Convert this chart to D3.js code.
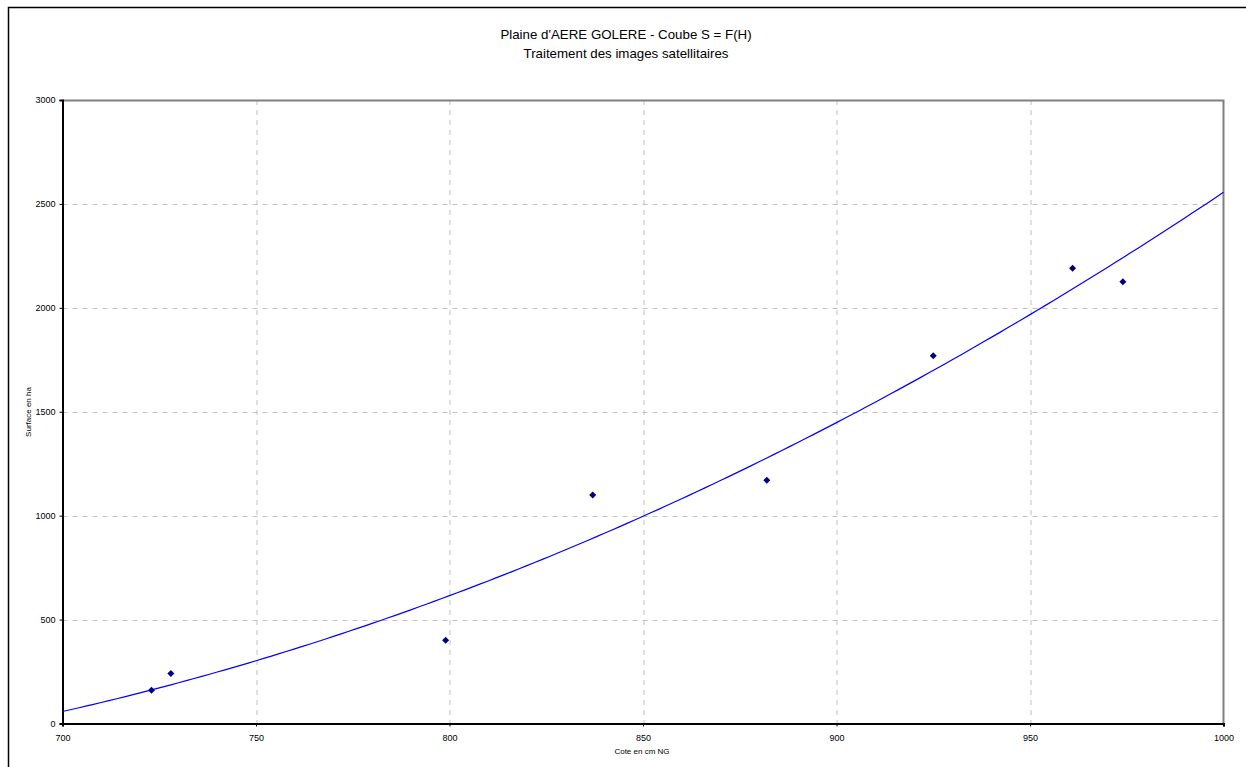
<!DOCTYPE html>
<html>
<head>
<meta charset="utf-8">
<script src="https://cdn.jsdelivr.net/npm/d3@7"></script>
<style>
  body { margin: 0; background: #fff; overflow: hidden; }
  svg { display: block; font-family: "Liberation Sans", Arial, sans-serif; }
</style>
</head>
<body>
<svg id="chart" width="1246" height="767"></svg>
<script>
// measured points (cote en cm NG, surface en ha)
var cote = [723, 728, 799, 837, 882, 925, 961, 974];
var surface = [160, 240, 400, 1100, 1170, 1770, 2190, 2125];

var xTicks = [700, 750, 800, 850, 900, 950, 1000];
var yTicks = [0, 500, 1000, 1500, 2000, 2500, 3000];

var svg = d3.select('#chart');
var width = +svg.attr('width');
var height = +svg.attr('height');

// plot area
var margin = { top: 100, left: 62.5, right: 22.5, bottom: 43.5 };
var w = width - margin.left - margin.right;
var h = height - margin.top - margin.bottom;

// outer chart border: only left and top are inside the picture
svg.append('path')
  .attr('d', 'M8.5,' + height + 'V7.5H' + width)
  .attr('fill', 'none').attr('stroke', '#000').attr('stroke-width', 1.5);

var x = d3.scaleLinear().domain([700, 1000]).range([0, w]);
var y = d3.scaleLinear().domain([0, 3000]).range([h, 0]);

var g = svg.append('g').attr('transform', 'translate(' + margin.left + ',' + margin.top + ')');

// dashed grid
g.selectAll('.vgrid').data(xTicks.slice(1, -1)).enter().append('line')
  .attr('x1', function(d) { return Math.round(x(d)) + 0.5; })
  .attr('x2', function(d) { return Math.round(x(d)) + 0.5; })
  .attr('y1', 0).attr('y2', h)
  .attr('stroke', '#c0c0c0').attr('stroke-dasharray', '5,5');
g.selectAll('.hgrid').data(yTicks.slice(1, -1)).enter().append('line')
  .attr('y1', function(d) { return Math.round(y(d)) + 0.5; })
  .attr('y2', function(d) { return Math.round(y(d)) + 0.5; })
  .attr('x1', 0).attr('x2', w)
  .attr('stroke', '#c0c0c0').attr('stroke-dasharray', '5,5');

// top and right frame in gray
g.append('path')
  .attr('d', 'M0,0.5H' + w + 'V' + h)
  .attr('fill', 'none').attr('stroke', '#808080').attr('stroke-width', 2);

// axes
var xAxis = g.append('g').attr('transform', 'translate(0,' + h + ')')
  .call(d3.axisBottom(x).tickValues(xTicks).tickSize(3).tickPadding(8).tickFormat(d3.format('d')));
var yAxis = g.append('g')
  .call(d3.axisLeft(y).tickValues(yTicks).tickSize(3).tickPadding(4).tickFormat(d3.format('d')));
[xAxis, yAxis].forEach(function(a) {
  a.select('.domain').attr('stroke', '#000').attr('stroke-width', 2);
  a.selectAll('text').attr('font-size', 9).attr('fill', '#000')
    .attr('font-family', '"Liberation Sans", Arial, sans-serif');
});

// quadratic least squares trend line from the points
var u = cote.map(function(c) { return c - 700; });
function sum(f) { return d3.sum(u, f); }
var n = u.length;
var s1 = sum(function(d) { return d; });
var s2 = sum(function(d) { return d * d; });
var s3 = sum(function(d) { return d * d * d; });
var s4 = sum(function(d) { return d * d * d * d; });
var t0 = d3.sum(surface);
var t1 = d3.sum(u, function(d, i) { return d * surface[i]; });
var t2 = d3.sum(u, function(d, i) { return d * d * surface[i]; });
// solve 3x3 system with Cramer's rule
function det(m) {
  return m[0][0] * (m[1][1] * m[2][2] - m[1][2] * m[2][1])
       - m[0][1] * (m[1][0] * m[2][2] - m[1][2] * m[2][0])
       + m[0][2] * (m[1][0] * m[2][1] - m[1][1] * m[2][0]);
}
var M = [[n, s1, s2], [s1, s2, s3], [s2, s3, s4]];
var T = [t0, t1, t2];
var D = det(M);
var coef = [0, 1, 2].map(function(k) {
  var mk = M.map(function(row, i) { return row.map(function(v, j) { return j === k ? T[i] : v; }); });
  return det(mk) / D;
});
var trend = d3.range(700, 1000.5, 2).map(function(c) {
  var v = c - 700;
  return [c, coef[0] + coef[1] * v + coef[2] * v * v];
});

g.append('path')
  .datum(trend)
  .attr('d', d3.line().x(function(d) { return x(d[0]); }).y(function(d) { return y(d[1]); }))
  .attr('fill', 'none').attr('stroke', '#0000ff').attr('stroke-width', 1.2);

// diamond markers
g.selectAll('.pt').data(cote).enter().append('path')
  .attr('d', 'M0,-3.5L3.5,0L0,3.5L-3.5,0Z')
  .attr('transform', function(d, i) { return 'translate(' + x(d) + ',' + y(surface[i]) + ')'; })
  .attr('fill', '#000080');

// titles
svg.append('text').attr('x', 626).attr('y', 39).attr('text-anchor', 'middle')
  .attr('font-size', 13.3).text("Plaine d'AERE GOLERE - Coube S = F(H)");
svg.append('text').attr('x', 626).attr('y', 58).attr('text-anchor', 'middle')
  .attr('font-size', 13.3).text('Traitement des images satellitaires');
svg.append('text').attr('x', 642).attr('y', 754).attr('text-anchor', 'middle')
  .attr('font-size', 8).text('Cote en cm NG');
svg.append('text').attr('transform', 'translate(31,412) rotate(-90)').attr('text-anchor', 'middle')
  .attr('font-size', 8).text('Surface en ha');
</script>
</body>
</html>
